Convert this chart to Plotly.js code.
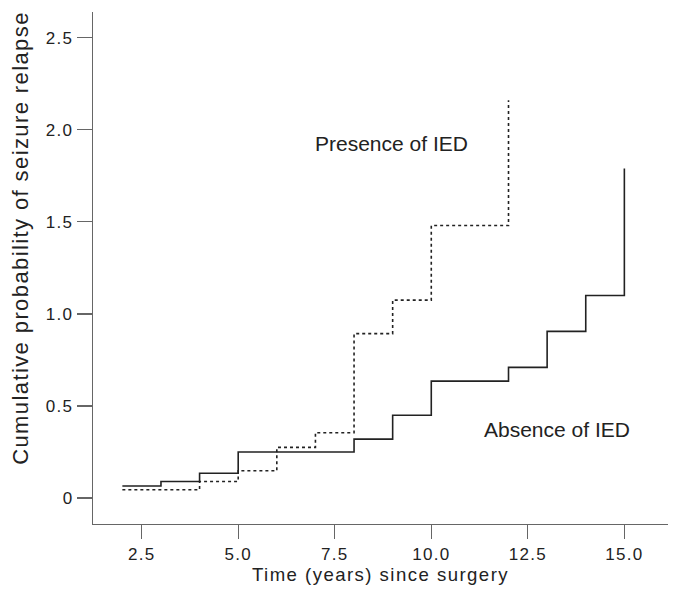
<!DOCTYPE html>
<html><head><meta charset="utf-8">
<script src="https://cdn.plot.ly/plotly-3.0.1.min.js"></script>
<style>html,body{margin:0;padding:0;background:#fff}#chart{width:675px;height:596px}
.xtitle{letter-spacing:1.45px}
.xtick text,.ytick text{letter-spacing:1.3px}</style>
</head><body><div id="chart"></div>
<script>
const absenceTime = [2, 3, 4, 5, 8, 9, 10, 12, 13, 14, 15];
const absenceProb = [0.065, 0.09, 0.135, 0.25, 0.32, 0.45, 0.635, 0.71, 0.905, 1.10, 1.79];
const presenceTime = [2, 4, 5, 6, 7, 8, 9, 10, 12];
const presenceProb = [0.045, 0.09, 0.148, 0.275, 0.355, 0.893, 1.075, 1.48, 2.16];
const yTickVals = [0, 0.5, 1.0, 1.5, 2.0, 2.5];
const yTickText = ['0', '0.5', '1.0', '1.5', '2.0', '2.5'];
const xTickVals = [2.5, 5.0, 7.5, 10.0, 12.5, 15.0];
const xTickText = ['2.5', '5.0', '7.5', '10.0', '12.5', '15.0'];
const yTitleText = 'Cumulative probability of seizure relapse';

const font = 'Liberation Sans, Arial, Helvetica, sans-serif';
const traces = [
  {x: absenceTime, y: absenceProb, mode: 'lines', line: {shape: 'hv', color: '#222', width: 1.6}, name: 'Absence of IED'},
  {x: presenceTime, y: presenceProb, mode: 'lines', line: {shape: 'hv', color: '#222', width: 1.6, dash: 'dot'}, name: 'Presence of IED'}
];
const layout = {
  width: 675, height: 596,
  margin: {l: 93, r: 7, t: 12, b: 72},
  showlegend: false,
  paper_bgcolor: '#fff', plot_bgcolor: '#fff',
  font: {family: font, color: '#222'},
  xaxis: {
    range: [1.24, 16.13], showgrid: false, zeroline: false,
    showline: true, linecolor: '#666', linewidth: 1.2,
    ticks: 'outside', ticklen: 14, tickcolor: '#666', tickwidth: 1.2,
    tickvals: xTickVals, ticktext: xTickText,
    tickfont: {size: 17, color: '#222'},
    title: {text: 'Time (years) since surgery', font: {size: 18.6, color: '#222'}, standoff: 3}
  },
  yaxis: {
    range: [-0.141, 2.64], showgrid: false, zeroline: false,
    showline: true, linecolor: '#666', linewidth: 1.2,
    ticks: 'outside', ticklen: 15, tickcolor: '#666', tickwidth: 1.2,
    tickvals: yTickVals, ticktext: yTickText,
    tickfont: {size: 17, color: '#222'}
  },
  annotations: [
    {x: 8.96, y: 1.928, xref: 'x', yref: 'y', text: 'Presence of IED', showarrow: false, xanchor: 'center', yanchor: 'middle', font: {size: 21, color: '#222', family: font}},
    {x: 13.25, y: 0.374, xref: 'x', yref: 'y', text: 'Absence of IED', showarrow: false, xanchor: 'center', yanchor: 'middle', font: {size: 21, color: '#222', family: font}},
    {x: -0.125, y: 0.5586, xref: 'paper', yref: 'paper', text: yTitleText, textangle: -90, showarrow: false, xanchor: 'center', yanchor: 'middle', font: {size: 22, color: '#222', family: font}}
  ]
};
Plotly.newPlot('chart', traces, layout, {displayModeBar: false, staticPlot: true}).then(function () {
  document.querySelectorAll('.annotation-text').forEach(function (t) {
    if (t.textContent === yTitleText) t.style.letterSpacing = '1.4px';
  });
});
</script></body></html>
